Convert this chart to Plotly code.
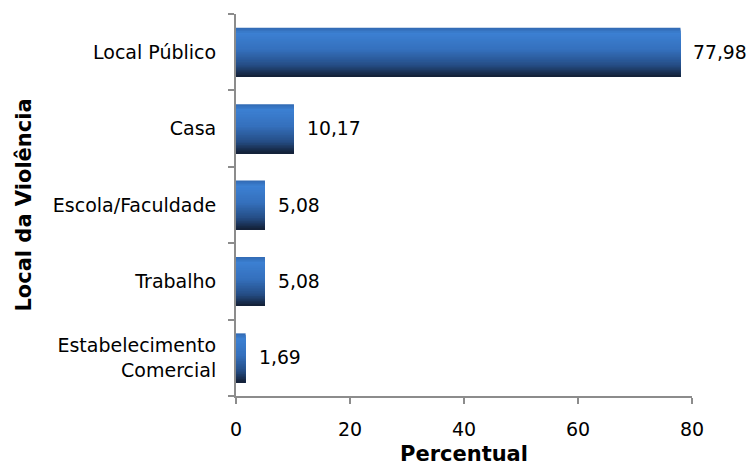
import plotly.graph_objects as go

categories = ["Estabelecimento<br>Comercial", "Trabalho", "Escola/Faculdade", "Casa", "Local Público"]
values = [1.69, 5.08, 5.08, 10.17, 77.98]
x_ticks = [0, 20, 40, 60, 80]

FONT = "DejaVu Sans"
FS = 19
BAR_W = 0.64
N = 30

def lerp(c1, c2, t):
    return tuple(round(a + (b - a) * t) for a, b in zip(c1, c2))

stops = [(0.0, (0x33, 0x6c, 0xb6)), (0.1, (0x3c, 0x80, 0xd2)), (0.45, (0x35, 0x70, 0xbd)),
         (0.78, (0x25, 0x4d, 0x84)), (1.0, (0x14, 0x22, 0x3a))]

def grad(t):
    for (t0, c0), (t1, c1) in zip(stops, stops[1:]):
        if t <= t1:
            return "rgb(%d,%d,%d)" % lerp(c0, c1, (t - t0) / (t1 - t0))
    return "rgb(%d,%d,%d)" % stops[-1][1]

fig = go.Figure()
for i in range(N):
    t = i / (N - 1)
    w = BAR_W * (1 - i / N)
    fig.add_trace(go.Bar(
        x=values, y=categories, orientation="h",
        width=w, offset=-BAR_W / 2,
        marker=dict(color=grad(t), line=dict(width=0)),
        showlegend=False, hoverinfo="skip" if i else "x+y",
    ))

for c, v in zip(categories, values):
    fig.add_annotation(x=v, y=c, xref="x", yref="y", text=f"{v:.2f}".replace(".", ","),
                       showarrow=False, xanchor="left", yanchor="middle", xshift=11,
                       font=dict(family=FONT, size=18.8, color="black"))

fig.update_layout(
    width=751, height=466, barmode="overlay",
    paper_bgcolor="white", plot_bgcolor="white",
    margin=dict(l=236, r=59, t=14, b=70),
    font=dict(family=FONT, size=FS, color="black"),
    separators=",.",
    xaxis=dict(range=[0, 80], tickvals=x_ticks, showgrid=False, zeroline=False,
               showline=True, linecolor="#8c8c8c", linewidth=2, automargin=False,
               ticks="outside", ticklen=6, tickcolor="#8c8c8c", tickwidth=2,
               tickfont=dict(family=FONT, size=FS), ticklabelstandoff=9,
               title=dict(text="<b>Percentual</b>", font=dict(family=FONT, size=21), standoff=13)),
    yaxis=dict(type="category", categoryarray=categories, categoryorder="array",
               range=[-0.5, 4.5], showgrid=False, zeroline=False, automargin=False,
               showline=True, linecolor="#8c8c8c", linewidth=2,
               ticks="outside", ticklen=6, tickcolor="#8c8c8c", tickwidth=2,
               tickson="boundaries", tickfont=dict(family=FONT, size=FS),
               ticklabelstandoff=14,
               title=dict(text="<b>Local da Violência</b>", font=dict(family=FONT, size=21), standoff=15)),
)

fig.write_html("out.html", config={"displayModeBar": False},
               post_script="document.body.style.margin='0';")
